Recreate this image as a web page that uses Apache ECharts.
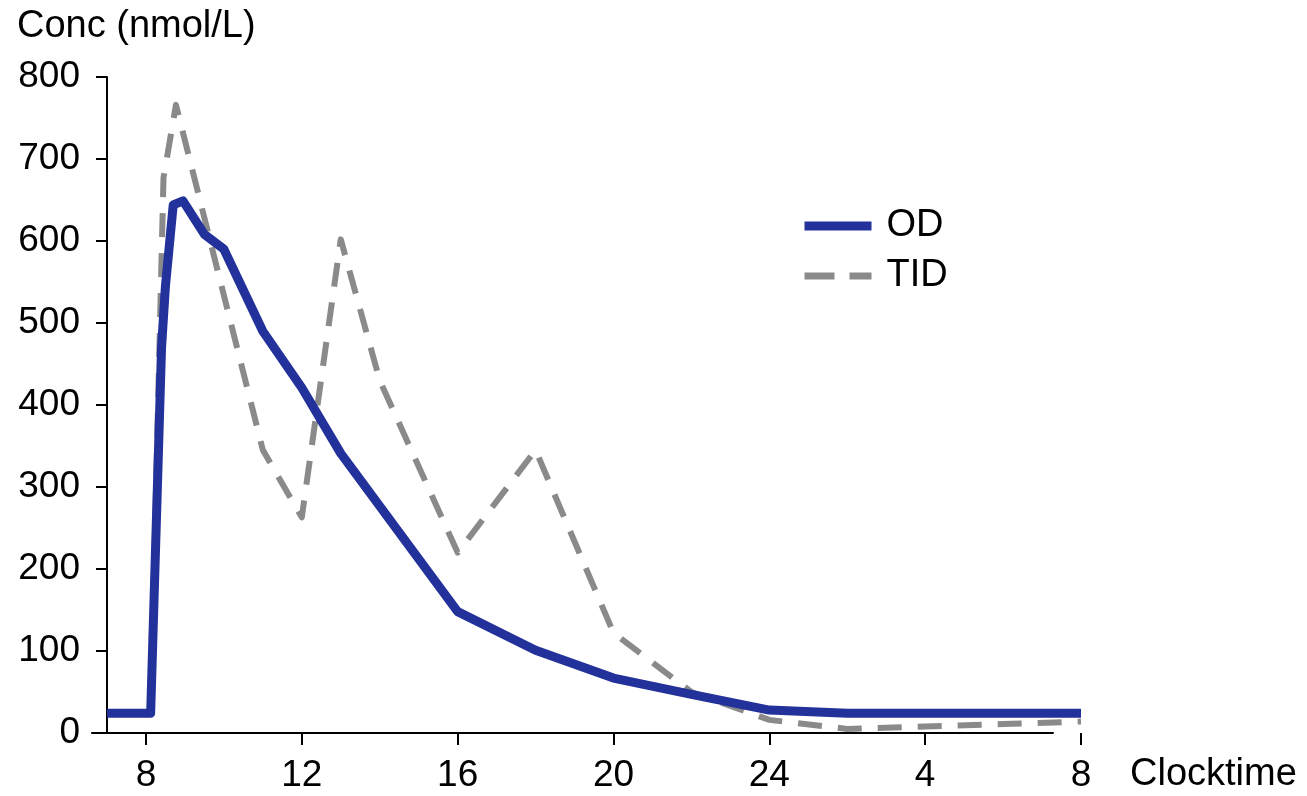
<!DOCTYPE html>
<html>
<head>
<meta charset="utf-8">
<script src="https://cdn.jsdelivr.net/npm/echarts@6/dist/echarts.min.js"></script>
<style>
  html, body { margin: 0; padding: 0; background: #fff; }
  #chart { width: 1307px; height: 796px; }
</style>
</head>
<body>
<div id="chart"></div>
<script>
// Clock time in hours from 08:00 on day 1 (24 = midnight, 32 = 08:00 next day)
const odTime  = [7, 8.12, 8.4, 8.5, 8.7, 8.95, 9.5, 10, 11, 12, 13, 16, 18, 20, 22, 24, 26, 32];
const odConc  = [24, 24, 470, 545, 644, 649, 608, 590, 490, 421, 341, 148, 101, 67, 47, 28, 24, 24];

const tidTime = [7, 8.12, 8.45, 8.77, 11, 12, 13, 14, 16, 18, 20, 22, 24, 26, 28, 30, 32];
const tidConc = [24, 24, 677, 766, 345, 263, 602, 430, 220, 345, 122, 50, 16, 5, 8, 11, 14];

const tickHours  = [8, 12, 16, 20, 24, 28, 32];
const tickLabels = ['8', '12', '16', '20', '24', '4', '8'];

const seriesNames = ['OD', 'TID'];

const FONT = '"Liberation Sans", Arial, Helvetica, sans-serif';
const BLUE = '#23319b';
const GREY = '#8a8a8a';
const ODLINE = { color: BLUE, width: 9, cap: 'butt', join: 'round' };
const TIDLINE = { color: GREY, width: 6, type: [24, 16], cap: 'butt', join: 'round' };

const pairs = (xs, ys) => xs.map((x, i) => [x, ys[i]]);

const chart = echarts.init(document.getElementById('chart'), null, { renderer: 'canvas' });

chart.setOption({
  animation: false,
  backgroundColor: '#fff',
  textStyle: { fontFamily: FONT, color: '#000' },
  title: {
    text: 'Conc (nmol/L)',
    left: 12,
    top: 3,
    textStyle: { fontFamily: FONT, fontSize: 38, fontWeight: 'normal', color: '#000' }
  },
  legend: {
    data: [
      { name: seriesNames[0], itemStyle: { opacity: 0 }, lineStyle: { color: BLUE, width: 9, type: 'solid' } },
      { name: seriesNames[1], itemStyle: { opacity: 0 }, lineStyle: { color: GREY, width: 7, type: [30, 15] } }
    ],
    orient: 'vertical',
    left: 795,
    top: 202,
    itemWidth: 67,
    itemHeight: 12,
    itemGap: 12,
    textStyle: { fontFamily: FONT, fontSize: 38, color: '#000', padding: [0, 0, 0, 10] }
  },
  grid: [
    // plotting area
    { left: 107, right: 226, top: 77, bottom: 63 },
    // baseline strip: carries the horizontal axis line only
    { left: 92, right: 254, top: 77, bottom: 63 }
  ],
  xAxis: [
    {
      type: 'value',
      gridIndex: 0,
      min: 7,
      max: 32,
      name: 'Clocktime',
      nameLocation: 'end',
      nameGap: 49,
      nameTextStyle: { fontFamily: FONT, fontSize: 38, color: '#000', verticalAlign: 'top', padding: [23, 0, 0, 0] },
      axisLine: { show: false },
      splitLine: { show: false },
      axisTick: {
        show: true,
        customValues: tickHours,
        length: 12,
        lineStyle: { color: '#000', width: 2 }
      },
      axisLabel: {
        customValues: tickHours,
        margin: 24,
        fontFamily: FONT,
        fontSize: 37,
        color: '#000',
        formatter: (v) => tickLabels[tickHours.indexOf(v)]
      }
    },
    {
      type: 'value',
      gridIndex: 1,
      min: 0,
      max: 1,
      axisLine: { show: true, onZero: false, lineStyle: { color: '#000', width: 2 } },
      axisTick: { show: false },
      axisLabel: { show: false },
      splitLine: { show: false }
    }
  ],
  yAxis: [
    {
      type: 'value',
      gridIndex: 0,
      min: 0,
      max: 800,
      interval: 100,
      axisLine: { show: true, lineStyle: { color: '#000', width: 2 } },
      axisTick: { show: true, length: 11, lineStyle: { color: '#000', width: 2 } },
      axisLabel: { margin: 27, fontFamily: FONT, fontSize: 37, color: '#000' },
      splitLine: { show: false }
    },
    { type: 'value', gridIndex: 1, show: false, min: 0, max: 1 }
  ],
  series: [
    {
      name: seriesNames[0],
      type: 'line',
      xAxisIndex: 0,
      yAxisIndex: 0,
      data: pairs(odTime, odConc),
      showSymbol: false,
      symbol: 'none',
      z: 3,
      lineStyle: ODLINE,
      itemStyle: { color: BLUE }
    },
    {
      name: seriesNames[1],
      type: 'line',
      xAxisIndex: 0,
      yAxisIndex: 0,
      data: pairs(tidTime, tidConc),
      showSymbol: false,
      symbol: 'none',
      z: 2,
      lineStyle: TIDLINE,
      itemStyle: { color: GREY }
    }
  ]
});
</script>
</body>
</html>
